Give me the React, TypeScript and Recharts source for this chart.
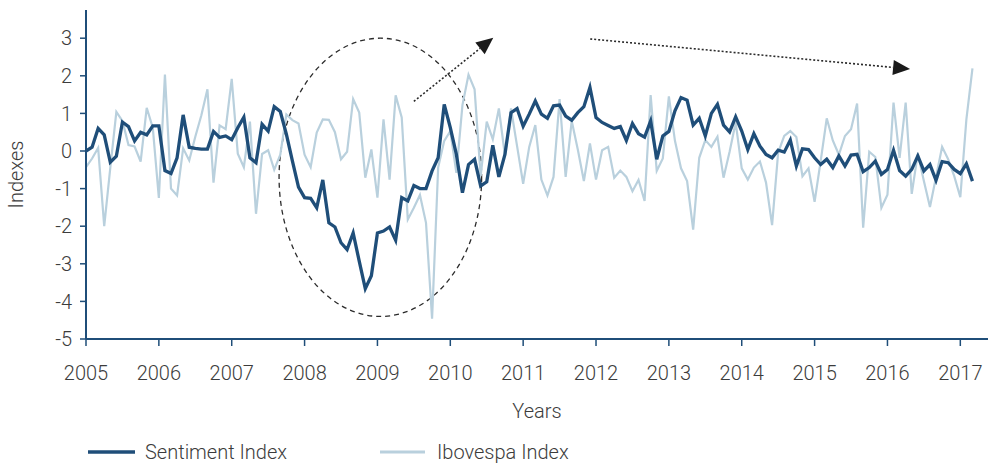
import { LineChart, Line, XAxis, YAxis, Legend, ReferenceArea, ReferenceLine } from 'recharts';

// monthly readings, Jan 2005 -> Mar 2017
const sentiment = [
  0.0, 0.1, 0.6, 0.43, -0.3, -0.14, 0.77, 0.65, 0.27, 0.5, 0.43, 0.67,
  0.67, -0.52, -0.6, -0.18, 0.96, 0.1, 0.07, 0.05, 0.05, 0.52, 0.36, 0.4,
  0.3, 0.62, 0.9, -0.18, -0.31, 0.71, 0.53, 1.18, 1.05, 0.45, -0.27, -0.96,
  -1.24, -1.26, -1.51, -0.77, -1.91, -2.02, -2.44, -2.62, -2.18, -2.93, -3.66, -3.32,
  -2.18, -2.13, -2.02, -2.37, -1.24, -1.33, -0.92, -1.0, -1.0, -0.53, -0.18, 1.24,
  0.62, -0.09, -1.11, -0.36, -0.22, -0.93, -0.82, 0.15, -0.69, -0.09, 1.02, 1.13,
  0.66, 0.98, 1.33, 0.98, 0.87, 1.2, 1.22, 0.93, 0.82, 1.02, 1.18, 1.69,
  0.89, 0.76, 0.68, 0.6, 0.65, 0.28, 0.73, 0.46, 0.37, 0.8, -0.22, 0.4,
  0.52, 1.07, 1.42, 1.35, 0.69, 0.87, 0.4, 1.0, 1.24, 0.69, 0.51, 0.91,
  0.53, 0.04, 0.46, 0.13, -0.09, -0.18, 0.02, -0.03, 0.29, -0.4, 0.06, 0.04,
  -0.18, -0.36, -0.22, -0.44, -0.13, -0.4, -0.11, -0.09, -0.55, -0.44, -0.27, -0.62,
  -0.49, 0.02, -0.52, -0.67, -0.49, -0.13, -0.53, -0.36, -0.78, -0.28, -0.31, -0.49,
  -0.6, -0.34, -0.8,
];

const ibovespa = [
  -0.43, -0.2, 0.08, -2.0, -0.45, 1.04, 0.8, 0.16, 0.12, -0.28, 1.15, 0.62,
  -1.25, 2.03, -1.0, -1.18, 0.07, -0.25, 0.38, 0.95, 1.64, -0.84, 0.68, 0.58,
  1.92, -0.07, -0.43, 0.78, -1.67, -0.08, 0.02, -0.5, -0.1, 0.97, 0.82, 0.73,
  -0.1, -0.43, 0.49, 0.84, 0.83, 0.5, -0.22, -0.02, 1.38, 1.02, -0.71, 0.04,
  -1.24, 0.84, -0.76, 1.48, 0.89, -1.82, -1.51, -1.17, -1.91, -4.46, -0.44, 0.27,
  0.53, -0.58, 1.22, 2.03, 1.64, -0.67, 0.78, 0.31, 1.13, -0.12, 1.13, 0.13,
  -0.87, 0.11, 0.69, -0.76, -1.18, -0.69, 1.38, -0.69, 0.8, 0.04, -0.8, 0.2,
  -0.76, 0.02, 0.11, -0.71, -0.52, -0.69, -1.07, -0.77, -1.33, 1.49, -0.53, -0.2,
  1.45, 0.27, -0.46, -0.8, -2.09, -0.18, 0.29, 0.11, 0.38, -0.71, -0.02, 0.76,
  -0.46, -0.76, -0.44, -0.28, -0.84, -1.97, -0.04, 0.4, 0.53, 0.37, -0.67, -0.46,
  -1.35, -0.27, 0.87, 0.28, -0.1, 0.4, 0.58, 1.26, -2.04, -0.02, -0.16, -1.51,
  -1.16, 1.29, -0.18, 1.29, -1.14, -0.07, -0.8, -1.49, -0.69, 0.11, -0.22, -0.67,
  -1.23, 0.84, 2.2,
];

const years = [2005, 2006, 2007, 2008, 2009, 2010, 2011, 2012, 2013, 2014, 2015, 2016, 2017];
const yTicks = [-5, -4, -3, -2, -1, 0, 1, 2, 3];

const data = sentiment.map((s, i) => ({
  t: 2005 + i / 12,
  sentiment: s,
  ibovespa: ibovespa[i],
}));

const DARK = '#1f4e79';
const LIGHT = '#b9d0dd';
const TEXT = '#3c3c3c';
const FONT = 'Roboto, "Open Sans", sans-serif';
const INK = '#2b2b2b';

const Arrow = (p: any) => {
  const { x1, y1, x2, y2 } = p;
  const dx = x2 - x1;
  const dy = y2 - y1;
  const len = Math.sqrt(dx * dx + dy * dy);
  const ux = dx / len;
  const uy = dy / len;
  const bx = x2 - ux * 17;
  const by = y2 - uy * 17;
  const nx = -uy * 7.5;
  const ny = ux * 7.5;
  return (
    <g>
      <line x1={x1} y1={y1} x2={bx} y2={by} stroke={INK} strokeWidth={1.6} strokeDasharray="2 2" />
      <polygon points={`${x2},${y2} ${bx + nx},${by + ny} ${bx - nx},${by - ny}`} fill="#1a1a1a" />
    </g>
  );
};

const Oval = (p: any) => (
  <ellipse
    cx={p.x + p.width / 2}
    cy={p.y + p.height / 2}
    rx={p.width / 2}
    ry={p.height / 2}
    fill="none"
    stroke={INK}
    strokeWidth={1.3}
    strokeDasharray="5 4"
  />
);

const LegendBox = () => (
  <svg width={990} height={50} style={{ display: 'block', overflow: 'visible' }}>
    <line x1={88} y1={38} x2={135} y2={38} stroke={DARK} strokeWidth={3.5} />
    <text x={145} y={45} fontSize={20} fontWeight={300} fill={TEXT} fontFamily={FONT}>Sentiment Index</text>
    <line x1={380} y1={38} x2={425} y2={38} stroke={LIGHT} strokeWidth={3} />
    <text x={437} y={45} fontSize={20} fontWeight={300} fill={TEXT} fontFamily={FONT}>Ibovespa Index</text>
  </svg>
);

const YLabel = (p: any) => {
  const vb = p.viewBox;
  const cx = vb.x + 16;
  const cy = vb.y + vb.height / 2;
  return (
    <text x={cx} y={cy} transform={`rotate(-90 ${cx} ${cy})`} textAnchor="middle" dominantBaseline="central"
      fontSize={20} fontWeight={300} fill={TEXT} fontFamily={FONT}>Indexes</text>
  );
};

const XLabel = (p: any) => {
  const vb = p.viewBox;
  return (
    <text x={vb.x + vb.width / 2} y={vb.y + 79} textAnchor="middle"
      fontSize={20} fontWeight={300} fill={TEXT} fontFamily={FONT}>Years</text>
  );
};

export default function App() {
  const tick = { fontSize: 20, fontWeight: 300, fill: TEXT, fontFamily: FONT };
  return (
    <div style={{ position: 'absolute', left: 0, top: 0, width: 990, height: 464, background: '#fff', fontFamily: FONT }}>
      <LineChart width={990} height={464} data={data} margin={{ top: 10, right: 2, left: 0, bottom: 0 }}>
        <XAxis
          dataKey="t"
          type="number"
          domain={[2005, 2017.38]}
          ticks={years}
          allowDataOverflow
          height={75}
          tick={tick}
          tickSize={7}
          tickMargin={20}
          axisLine={{ stroke: DARK, strokeWidth: 2 }}
          tickLine={{ stroke: DARK, strokeWidth: 1.5 }}
          label={<XLabel />}
        />
        <YAxis
          type="number"
          domain={[-5, 3.75]}
          ticks={yTicks}
          allowDataOverflow
          width={86}
          tick={tick}
          tickSize={6}
          tickMargin={8}
          axisLine={{ stroke: DARK, strokeWidth: 2 }}
          tickLine={{ stroke: DARK, strokeWidth: 1.5 }}
          label={<YLabel />}
        />
        <Legend verticalAlign="bottom" height={50} content={<LegendBox />} />
        <Line type="linear" dataKey="ibovespa" name="Ibovespa Index" stroke={LIGHT} strokeWidth={2.2} dot={false} isAnimationActive={false} />
        <Line type="linear" dataKey="sentiment" name="Sentiment Index" stroke={DARK} strokeWidth={3.3} dot={false} isAnimationActive={false} />
        <ReferenceArea x1={2007.65} x2={2010.43} y1={-4.4} y2={3.0} ifOverflow="visible" shape={<Oval />} />
        <ReferenceLine segment={[{ x: 2009.5, y: 1.32 }, { x: 2010.59, y: 3.01 }]} ifOverflow="visible" shape={<Arrow />} />
        <ReferenceLine segment={[{ x: 2011.92, y: 2.98 }, { x: 2016.31, y: 2.18 }]} ifOverflow="visible" shape={<Arrow />} />
      </LineChart>
    </div>
  );
}
